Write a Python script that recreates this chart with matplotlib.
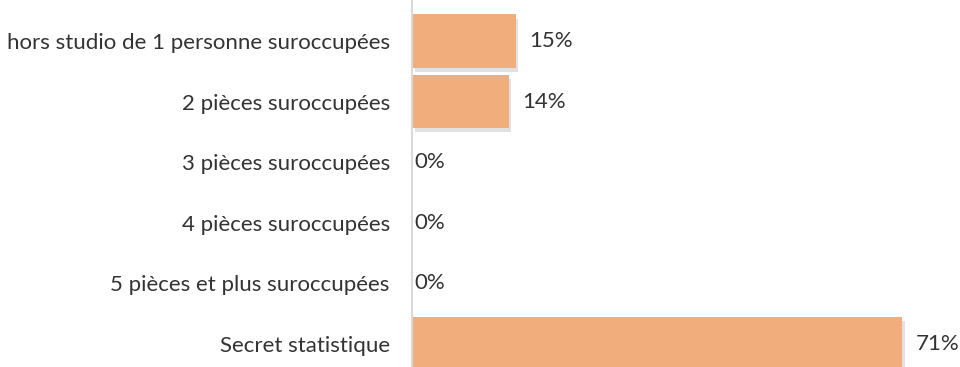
import matplotlib.pyplot as plt
import matplotlib.patheffects as pe

# Logements suroccupés par type
categories = [
    "hors studio de 1 personne suroccupées",
    "2 pièces suroccupées",
    "3 pièces suroccupées",
    "4 pièces suroccupées",
    "5 pièces et plus suroccupées",
    "Secret statistique",
]
values = [15, 14, 0, 0, 0, 71]
labels = ["15%", "14%", "0%", "0%", "0%", "71%"]

BAR_COLOR = "#F1AE7C"
TEXT_COLOR = "#333333"

plt.rcParams["font.family"] = ["Lato", "DejaVu Sans"]

fig = plt.figure(figsize=(9.6, 3.67), dpi=100)
ax = fig.add_axes([412 / 960, 0, 1 - 412 / 960, 1])

pos = list(range(len(categories)))
bars = ax.barh(pos, values, height=0.88, color=BAR_COLOR, zorder=2)
for b in bars:
    b.set_path_effects([
        pe.SimplePatchShadow(offset=(2, -3), shadow_rgbFace="#888888", alpha=0.25),
        pe.Normal(),
    ])

for y, v, lab in zip(pos, values, labels):
    off = 10 if v > 0 else 2
    ax.annotate(lab, (v, y), xytext=(off, 0), textcoords="offset points",
                va="center", ha="left", fontsize=16, color=TEXT_COLOR)

ax.set_xlim(0, 548 / 6.9)
ax.set_ylim(5.38, -0.677)
ax.set_yticks(pos)
ax.set_yticklabels(categories, fontsize=16, color=TEXT_COLOR)
ax.tick_params(axis="y", length=0, pad=16)
ax.set_xticks([])

for s in ["top", "right", "bottom"]:
    ax.spines[s].set_visible(False)
ax.spines["left"].set_color("#D9D9D9")
ax.spines["left"].set_linewidth(1.5)

fig.savefig("out.png", dpi=100)
